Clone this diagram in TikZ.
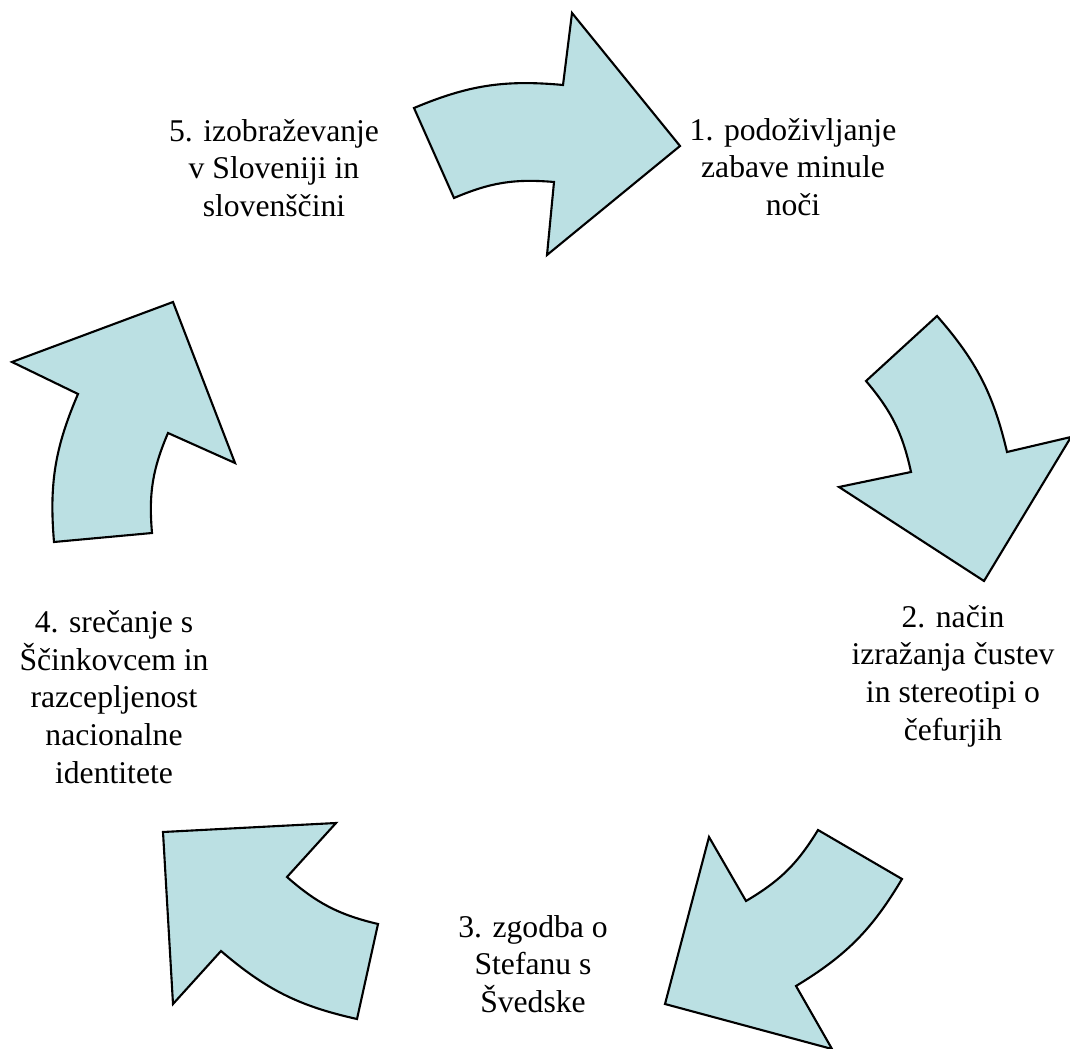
\documentclass[tikz,border=0pt]{standalone}
\usepackage{fontspec}
\setmainfont{Liberation Serif}
\definecolor{arrowfill}{RGB}{187,224,227}
\begin{document}
\begin{tikzpicture}[x=0.01cm,y=0.01cm,
  blockarrow/.style={fill=arrowfill,draw=black,line width=0.6pt,line join=miter},
  steptext/.style={align=center,inner sep=0pt,font=\fontsize{9}{10.7}\selectfont}]
\useasboundingbox (0,0) rectangle (1070,1048);

% five curved block arrows, clockwise
\draw[blockarrow] (414,940) to[bend left=14] (563,963) -- (572,1035) -- (680,902)
  -- (547,793) -- (554,866) to[bend right=14] (454,850) -- cycle;
\draw[blockarrow] (937,732) to[bend left=14] (1007,596) -- (1071,611) -- (984,467)
  -- (839,561) -- (911,576) to[bend right=14] (866,667) -- cycle;
\draw[blockarrow] (818,218) -- (902,169) to[bend left=14] (796,62) -- (832,-1)
  -- (665,44) -- (709,211) -- (746,147) to[bend right=14] cycle;
\draw[blockarrow] (163,216) -- (336,225) -- (287,171) to[bend right=14] (378,124)
  -- (357,29) to[bend left=14] (221,97) -- (173,44) -- cycle;
\draw[blockarrow] (173,746) -- (235,585) -- (168,615) to[bend right=14] (152,515)
  -- (54,506) to[bend left=14] (78,654) -- (12,686) -- cycle;

% step labels
\node[steptext] (s1) at (793,881) {1. podoživljanje\\zabave minule\\noči};
\node[steptext] (s2) at (953,372) {2. način\\izražanja čustev\\in stereotipi o\\čefurjih};
\node[steptext] (s3) at (533,84) {3. zgodba o\\Stefanu s\\Švedske};
\node[steptext] (s4) at (114,351) {4. srečanje s\\Ščinkovcem in\\razcepljenost\\nacionalne\\identitete};
\node[steptext] (s5) at (274,880) {5. izobraževanje\\v Sloveniji in\\slovenščini};
\end{tikzpicture}
\end{document}
